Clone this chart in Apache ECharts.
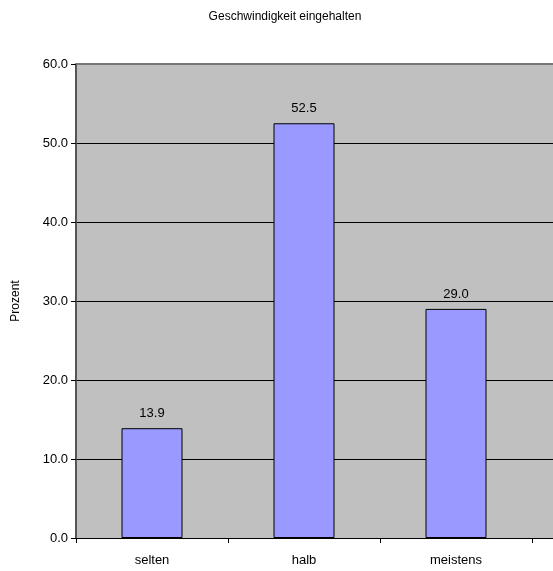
<!DOCTYPE html>
<html>
<head>
<meta charset="utf-8">
<script src="https://cdn.jsdelivr.net/npm/echarts@6/dist/echarts.min.js"></script>
<style>
	html, body { margin: 0; padding: 0; background: #fff; }
	#chart { width: 553px; height: 571px; }
</style>
</head>
<body>
<div id="chart"></div>
<script>
const categories = ['selten', 'halb', 'meistens'];
const percentValues = [13.9, 52.5, 29.0];
const yTicks = [0, 10, 20, 30, 40, 50, 60];

const font = 'Liberation Sans, Arial, sans-serif';
const myChart = echarts.init(document.getElementById('chart'));
const option = {
	animation: false,
	title: {
		text: 'Geschwindigkeit eingehalten',
		left: 280,
		top: 6,
		textAlign: 'center',
		textStyle: { fontFamily: font, fontSize: 12, fontWeight: 'normal', color: '#000' }
	},
	grid: {
		left: 76,
		top: 64,
		width: 456,
		bottom: 33,
		show: true,
		backgroundColor: '#c0c0c0',
		borderWidth: 0
	},
	xAxis: {
		type: 'category',
		data: categories,
		axisLine: { lineStyle: { color: '#000', width: 1 } },
		axisTick: {
			show: true,
			length: 5,
			interval: (index) => index < categories.length,
			lineStyle: { color: '#000' }
		},
		axisLabel: { fontFamily: font, fontSize: 13, color: '#000', margin: 16 }
	},
	yAxis: {
		type: 'value',
		min: yTicks[0],
		max: yTicks[yTicks.length - 1],
		interval: 10,
		name: 'Prozent',
		nameLocation: 'middle',
		nameGap: 54,
		nameTextStyle: { fontFamily: font, fontSize: 12, color: '#000' },
		axisLine: { show: true, lineStyle: { color: '#555', width: 2 } },
		axisTick: { show: true, length: 5, lineStyle: { color: '#000' } },
		axisLabel: {
			fontFamily: font,
			fontSize: 13,
			color: '#000',
			margin: 8,
			formatter: (v) => v.toFixed(1)
		},
		splitLine: { show: true, lineStyle: { color: '#000', width: 1 } }
	},
	series: [
		{
			type: 'bar',
			data: percentValues,
			barWidth: 61,
			itemStyle: { color: '#9999ff', borderColor: '#000', borderWidth: 1 },
			label: {
				show: true,
				position: 'top',
				distance: 8,
				fontFamily: font,
				fontSize: 13,
				color: '#000',
				formatter: (p) => p.value.toFixed(1)
			}
		}
	]
};
myChart.setOption(option, true);

// plot area runs past the right edge of the picture: extend background and grid lines
const rightEdge = 532;
const yTop = myChart.convertToPixel({ yAxisIndex: 0 }, yTicks[yTicks.length - 1]);
const yBottom = myChart.convertToPixel({ yAxisIndex: 0 }, yTicks[0]);
const extra = [
	{
		type: 'rect',
		shape: { x: rightEdge, y: yTop, width: 553 - rightEdge, height: yBottom - yTop },
		style: { fill: '#c0c0c0' },
		z: -1
	}
];
yTicks.forEach((t) => {
	const y = Math.round(myChart.convertToPixel({ yAxisIndex: 0 }, t)) + 0.5;
	extra.push({
		type: 'line',
		shape: { x1: rightEdge, y1: y, x2: 553, y2: y },
		style: { stroke: '#000', lineWidth: 1 },
		z: 0
	});
});
extra.push({
	type: 'line',
	shape: { x1: 76, y1: yTop, x2: 553, y2: yTop },
	style: { stroke: '#777', lineWidth: 2 },
	z: 5
});
myChart.setOption({ graphic: extra });
</script>
</body>
</html>
